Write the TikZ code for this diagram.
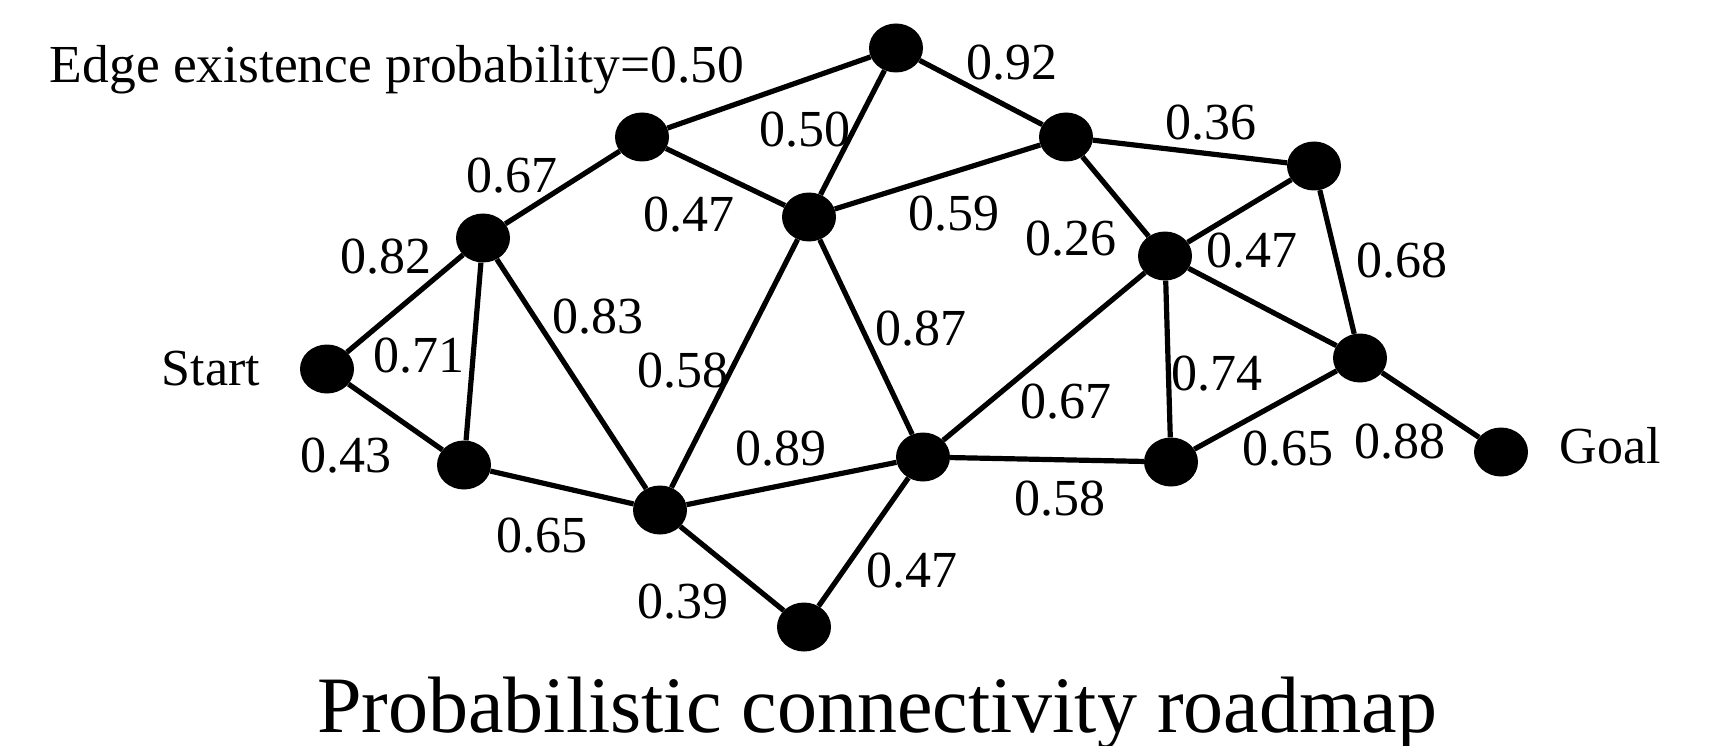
\documentclass[tikz,border=0pt]{standalone}
\usepackage{fontspec}
\setmainfont{Liberation Serif}
\usetikzlibrary{shapes.geometric}
\begin{document}
\begin{tikzpicture}[x=1pt,y=-1pt,
  vertex/.style={ellipse,fill=black,draw=none,inner sep=0pt,minimum width=54pt,minimum height=49pt},
  edge/.style={line width=5.2pt,black},
  lab/.style={anchor=base,inner sep=0pt,font=\fontsize{52}{60}\selectfont},
  heading/.style={anchor=base,inner sep=0pt,font=\fontsize{80}{90}\selectfont}]
\useasboundingbox (0,0) rectangle (1729,746);

% roadmap vertices
\node[vertex] (start) at (327,369) {};
\node[vertex] (a) at (483,238) {};
\node[vertex] (b) at (464,465) {};
\node[vertex] (c) at (642,137) {};
\node[vertex] (d) at (896,48) {};
\node[vertex] (e) at (809,217) {};
\node[vertex] (f) at (1066,137) {};
\node[vertex] (g) at (1314,166) {};
\node[vertex] (h) at (1165,256) {};
\node[vertex] (i) at (1360,358) {};
\node[vertex] (j) at (1171,462) {};
\node[vertex] (k) at (923,457) {};
\node[vertex] (l) at (660,510) {};
\node[vertex] (m) at (804,627) {};
\node[vertex] (goal) at (1501,452) {};

% roadmap edges
\draw[edge] (start) -- (a);
\draw[edge] (start) -- (b);
\draw[edge] (a) -- (b);
\draw[edge] (a) -- (c);
\draw[edge] (a) -- (l);
\draw[edge] (b) -- (l);
\draw[edge] (c) -- (d);
\draw[edge] (c) -- (e);
\draw[edge] (d) -- (e);
\draw[edge] (d) -- (f);
\draw[edge] (e) -- (f);
\draw[edge] (e) -- (l);
\draw[edge] (e) -- (k);
\draw[edge] (l) -- (k);
\draw[edge] (l) -- (m);
\draw[edge] (m) -- (k);
\draw[edge] (k) -- (h);
\draw[edge] (k) -- (j);
\draw[edge] (f) -- (g);
\draw[edge] (f) -- (h);
\draw[edge] (h) -- (g);
\draw[edge] (h) -- (j);
\draw[edge] (h) -- (i);
\draw[edge] (g) -- (i);
\draw[edge] (j) -- (i);
\draw[edge] (i) -- (goal);

% edge probabilities
\node[lab,font=\fontsize{53.5}{60}\selectfont] (tcd) at (397,83) {Edge existence probability=0.50};
\node[lab] (tde) at (805,147) {0.50};
\node[lab] (tdf) at (1012,80) {0.92};
\node[lab] (tac) at (512,193) {0.67};
\node[lab] (tce) at (689,232) {0.47};
\node[lab] (tsa) at (386,273) {0.82};
\node[lab] (tfg) at (1211,140) {0.36};
\node[lab] (tef) at (954,230) {0.59};
\node[lab] (tfh) at (1071,255) {0.26};
\node[lab] (thg) at (1252,267) {0.47};
\node[lab] (tgi) at (1402,277) {0.68};
\node[lab] (tal) at (598,333) {0.83};
\node[lab] (tek) at (921,345) {0.87};
\node[lab] (tab) at (419,372) {0.71};
\node[lab] (tel) at (683,387) {0.58};
\node[lab] (thj) at (1217,390) {0.74};
\node[lab] (tkh) at (1066,418) {0.67};
\node[lab] (tsb) at (346,472) {0.43};
\node[lab] (tlk) at (781,465) {0.89};
\node[lab] (tji) at (1288,465) {0.65};
\node[lab] (tig) at (1400,458) {0.88};
\node[lab] (tkj) at (1060,515) {0.58};
\node[lab] (tbl) at (542,552) {0.65};
\node[lab] (tlm) at (683,618) {0.39};
\node[lab] (tmk) at (912,587) {0.47};

% endpoints and caption
\node[lab] (startname) at (211,385) {Start};
\node[lab] (goalname) at (1610,463) {Goal};
\node[heading] (caption) at (877,732) {Probabilistic connectivity roadmap};
\end{tikzpicture}
\end{document}
